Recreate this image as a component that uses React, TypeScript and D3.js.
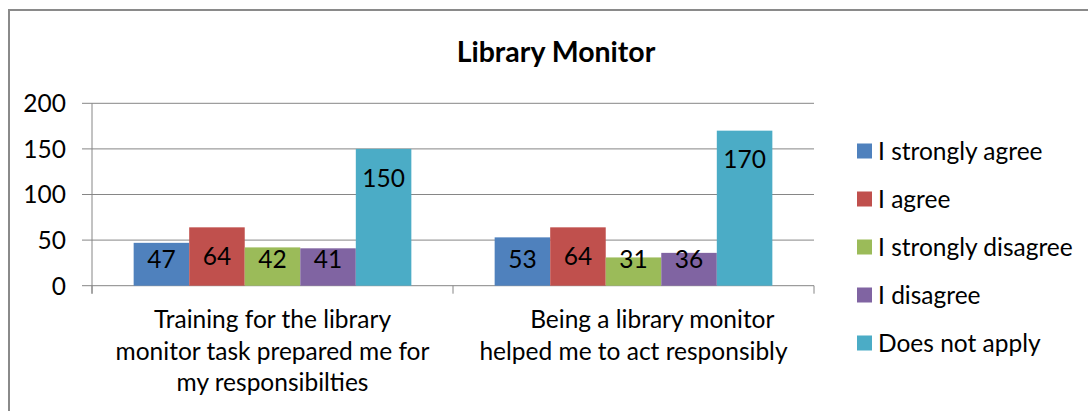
import React from "react";
import * as d3 from "d3";

const title = "Library Monitor";
const categories = ["Training", "Being"];
const categoryLines = [
  ["Training for the library", "monitor task prepared me for", "my responsibilties"],
  ["\u00A0\u00A0\u00A0\u00A0\u00A0\u00A0Being a library monitor", "helped me to act responsibly"],
];
const seriesNames = ["I strongly agree", "I agree", "I strongly disagree", "I disagree", "Does not apply"];
const seriesColors = ["#4F81BD", "#C0504D", "#9BBB59", "#8064A2", "#4BACC6"];
const strongAgree = [47, 53];
const agree = [64, 64];
const strongDisagree = [42, 31];
const disagree = [41, 36];
const notApply = [150, 170];
const seriesValues = [strongAgree, agree, strongDisagree, disagree, notApply];
const yTicks = [0, 50, 100, 150, 200];

const W = 1088;
const H = 411;
const FONT = "Lato, 'Open Sans', sans-serif";
const GRID = "#868686";
const FS = 24.5;

export default function App() {
  const left = 92, right = 814, top = 103.3, bottom = 285.7;
  const y = d3.scaleLinear().domain([0, 200]).range([bottom, top]);
  const x0 = d3.scaleBand<string>().domain(categories).range([left, right]).paddingInner(0).paddingOuter(0);
  const x1 = d3.scaleBand<string>().domain(seriesNames).range([0, x0.bandwidth()]).paddingInner(0).paddingOuter(0.75);

  return (
    <svg width={W} height={H} style={{ position: "absolute", left: 0, top: 0, background: "#fff" }} fontFamily={FONT}>
      <rect x={9} y={10} width={1100} height={420} fill="#fff" stroke="#8a8a8a" strokeWidth={2} />
      <text x={556} y={62} textAnchor="middle" fontSize={28.5} fontWeight="bold" fill="#000">{title}</text>
      {yTicks.map((t) => (
        <g key={t}>
          <line x1={82} x2={right} y1={y(t)} y2={y(t)} stroke={GRID} strokeWidth={1} />
          <text x={66} y={y(t)} dy="0.36em" textAnchor="end" fontSize={FS} fill="#000">{t}</text>
        </g>
      ))}
      <line x1={left} x2={left} y1={top} y2={bottom + 8} stroke={GRID} strokeWidth={1} />
      {[left, ...categories.map((c) => (x0(c) as number) + x0.bandwidth())].map((xx, i) => (
        <line key={i} x1={xx} x2={xx} y1={bottom} y2={bottom + 8} stroke={GRID} strokeWidth={1} />
      ))}
      {categories.map((c, ci) => (
        <g key={c}>
          {seriesNames.map((s, si) => {
            const v = seriesValues[si][ci];
            const bx = (x0(c) as number) + (x1(s) as number);
            const by = y(v);
            const ly = Math.min(by + 29, bottom - 27);
            return (
              <g key={s}>
                <rect x={bx} y={by} width={x1.bandwidth()} height={bottom - by} fill={seriesColors[si]} />
                <text x={bx + x1.bandwidth() / 2} y={ly} dy="0.36em" textAnchor="middle" fontSize={FS} fill="#000">{v}</text>
              </g>
            );
          })}
          {categoryLines[ci].map((ln, li) => (
            <text key={li} x={(x0(c) as number) + x0.bandwidth() / 2} y={328 + li * 31.5} textAnchor="middle" fontSize={FS} fill="#000" style={{ whiteSpace: "pre" }}>{ln}</text>
          ))}
        </g>
      ))}
      {seriesNames.map((s, i) => (
        <g key={s} transform={`translate(857, ${143.5 + i * 48})`}>
          <rect x={0} y={0} width={15} height={15} fill={seriesColors[i]} />
          <text x={21} y={7.5} dy="0.36em" fontSize={FS} fill="#000">{s}</text>
        </g>
      ))}
    </svg>
  );
}
